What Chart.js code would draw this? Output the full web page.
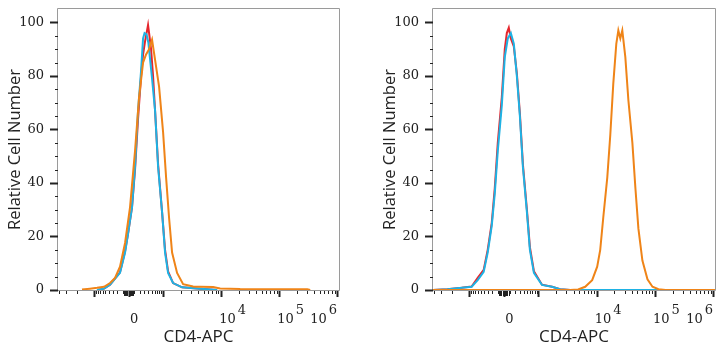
<!DOCTYPE html>
<html><head><meta charset="utf-8">
<script src="https://cdn.jsdelivr.net/npm/chart.js@4.4.0/dist/chart.umd.min.js"></script>
<style>
html,body{margin:0;padding:0;background:#fff;}
#wrap{position:relative;width:725px;height:350px;overflow:hidden;}
.pane{position:absolute;top:0;height:350px;}
</style></head><body>
<div id="wrap">
<div class="pane" style="left:0;width:362px"><canvas id="c1" width="362" height="350"></canvas></div>
<div class="pane" style="left:362px;width:363px"><canvas id="c2" width="363" height="350"></canvas></div>
</div>
<script>
// x values are display channels in decade units of the biexponential CD4-APC axis
// y values are relative cell number (%)
const xTitle = 'CD4-APC';
const yTitle = 'Relative Cell Number';
const yTickValues = [0, 20, 40, 60, 80, 100];
const xTickLabels = [
  {value: 0, base: '0', sup: ''},
  {value: 1e4, base: '10', sup: '4'},
  {value: 1e5, base: '10', sup: '5'},
  {value: 1e6, base: '10', sup: '6'}
];

// ---- left panel ----
const leftBlueX = [1.862,1.983,2.086,2.258,2.345,2.396,2.465,2.517,2.569,2.621,2.655,2.681,2.715,2.746,2.810,2.862,2.914,2.983,3.034,3.086,3.172,3.327,3.638,3.931];
const leftBlueY = [0,0.5,2,6.4,14,21,31,46,67,82,94,96,95.5,92.5,79,67,46,29,14,6.4,2.6,1,0.5,0];
const leftRedX = [1.862,1.983,2.086,2.258,2.345,2.396,2.465,2.517,2.569,2.621,2.655,2.690,2.724,2.741,2.759,2.793,2.827,2.862,2.914,2.983,3.034,3.086,3.172,3.327,3.638,3.931];
const leftRedY = [0,0.5,2,6.6,14.5,21,31,45,64,80,88,93,97,99,96,90,80,67,47,29,15,7,2.6,1,0.5,0];
const leftOrangeX = [1.603,1.741,1.862,1.983,2.086,2.172,2.258,2.345,2.431,2.517,2.586,2.655,2.707,2.759,2.810,2.862,2.931,3.000,3.052,3.103,3.155,3.241,3.345,3.517,3.638,3.862,3.983,4.327,5.483,5.534];
const leftOrangeY = [0.2,0.5,0.8,1.2,2.6,4.5,8.7,17.6,31,52,72,85,88,90,93.5,86,76,59,42,27,14,6.4,2.2,1.3,1.2,1.1,0.6,0.4,0.3,0];

// ---- right panel ----
const rightBlueX = [1.19,1.439,1.681,1.853,1.957,2.060,2.129,2.198,2.250,2.302,2.371,2.422,2.474,2.526,2.577,2.629,2.681,2.733,2.802,2.853,2.922,3.060,3.233,3.371,3.543,6.03];
const rightBlueY = [0,0.3,0.8,1.2,3.7,6.8,14,24,36,52,69,87,94,96,92,80,65,46,29,15,6.4,1.9,1.2,0.3,0,0];
const rightRedX = [1.19,1.439,1.681,1.853,1.957,2.060,2.129,2.198,2.250,2.302,2.371,2.422,2.457,2.491,2.526,2.577,2.629,2.681,2.733,2.802,2.853,2.922,3.060,3.233,3.371,3.543,6.03];
const rightRedY = [0,0.3,0.8,1.3,4.5,7.5,15,25,38,55,72,90,96,98,94,91,81,66,47,30,16,7,2,1.2,0.3,0,0];
const rightOrangeX = [1.19,3.543,3.681,3.802,3.922,4.008,4.060,4.112,4.181,4.233,4.284,4.336,4.371,4.405,4.439,4.491,4.543,4.612,4.664,4.715,4.784,4.871,4.957,5.060,5.181,6.03];
const rightOrangeY = [0,0,0.2,1.2,3.7,8.7,15,27,42,58,77,92,97,94,97,87,71,55,38,23,11,4,1.2,0.3,0,0];

const X_MIN = 1.19, X_MAX = 6.03, Y_MIN = 0, Y_MAX = 105;
const COLORS = {orange: '#ef8418', blue: '#1eb2e4', red: '#e5262d'};

// biexponential-like transform used for the axis tick positions
const T0 = 2.405, C = 300;
function tOf(v) {
  const a = Math.abs(v), s = Math.sign(v);
  if (a <= 1000) return T0 + s * (3 - T0) * Math.asinh(a / C) / Math.asinh(1000 / C);
  if (v > 0) return Math.log10(v);
  return 2 * T0 - 3 - Math.log10(a / 1000);
}
function tickList() {
  const list = [];
  for (let m = 9; m >= 2; m--) list.push({v: -m * 1000, len: 3});
  list.push({v: -1000, len: 6, major: true});
  for (let m = 9; m >= 1; m--) list.push({v: -m * 100, len: 3});
  for (let m = 8; m >= 2; m -= 2) list.push({v: -m * 10, len: 5});
  list.push({v: 0, len: 6, major: true});
  for (let m = 2; m <= 8; m += 2) list.push({v: m * 10, len: 5});
  for (let m = 1; m <= 9; m++) list.push({v: m * 100, len: 3});
  list.push({v: 1000, len: 6, major: true});
  for (const d of [1e3, 1e4, 1e5]) {
    for (let m = 2; m <= 9; m++) list.push({v: m * d, len: 3});
    list.push({v: 10 * d, len: 6, major: true});
  }
  return list;
}
const X_TICKS = tickList();

const axisPlugin = {
  id: 'flowAxes',
  beforeDatasetsDraw(chart) {
    const {ctx, chartArea: a} = chart;
    ctx.save();
    ctx.strokeStyle = '#9a9a9a';
    ctx.lineWidth = 1;
    ctx.beginPath();
    ctx.moveTo(a.left - 0.5, a.bottom + 0.5);
    ctx.lineTo(a.left - 0.5, a.top - 0.5);
    ctx.lineTo(a.right + 0.5, a.top - 0.5);
    ctx.lineTo(a.right + 0.5, a.bottom + 0.5);
    ctx.closePath();
    ctx.stroke();
    ctx.restore();
  },
  afterDraw(chart) {
    const {ctx, chartArea: a} = chart;
    const xs = chart.scales.x, ys = chart.scales.y;
    ctx.save();
    ctx.strokeStyle = '#222';
    for (let v = 0; v <= 100; v += 5) {
      const y = Math.round(ys.getPixelForValue(v)) + 0.5;
      const major = v % 20 === 0;
      ctx.lineWidth = major ? 2 : 1;
      ctx.beginPath();
      ctx.moveTo(a.left - (major ? 8 : 3), y);
      ctx.lineTo(a.left, y);
      ctx.stroke();
    }
    for (const tk of X_TICKS) {
      const t = tOf(tk.v);
      if (t < X_MIN - 1e-6 || t > X_MAX + 1e-6) continue;
      const x = Math.round(xs.getPixelForValue(t)) + 0.5;
      ctx.lineWidth = tk.major ? 2 : 1;
      ctx.beginPath();
      ctx.moveTo(x, a.bottom + 1);
      ctx.lineTo(x, a.bottom + 1 + tk.len);
      ctx.stroke();
    }
    ctx.fillStyle = '#222';
    ctx.font = '13px "DejaVu Serif"';
    ctx.textBaseline = 'alphabetic';
    for (const lb of xTickLabels) {
      const x = xs.getPixelForValue(tOf(lb.value));
      const by = a.bottom + 32.5;
      if (!lb.sup) {
        ctx.textAlign = 'center';
        ctx.fillText(lb.base, x + 5.5, by);
      } else {
        ctx.textAlign = 'left';
        const bw = ctx.measureText(lb.base).width;
        const x0 = lb.value >= 1e6 ? x - 27 : x - 2;
        ctx.fillText(lb.base, x0, by);
        ctx.fillText(lb.sup, x0 + bw + 2, by - 9);
      }
    }
    ctx.restore();
  }
};

function pts(xs, ys) { return xs.map((x, i) => ({x: x, y: ys[i]})); }

function makeChart(id, series, padLeft, padRight) {
  const datasets = series.map(s => ({
    data: pts(s.x, s.y), borderColor: s.color, borderWidth: 2,
    pointRadius: 0, tension: 0, fill: false
  }));
  return new Chart(document.getElementById(id), {
    type: 'line',
    data: {datasets},
    options: {
      responsive: false, animation: false, devicePixelRatio: 1,
      layout: {padding: {left: padLeft, right: padRight, top: 9, bottom: 0}},
      plugins: {legend: {display: false}, tooltip: {enabled: false}},
      scales: {
        x: {
          type: 'linear', min: X_MIN, max: X_MAX,
          afterFit(s) { s.height = 60; s.paddingLeft = 0; s.paddingRight = 0; },
          ticks: {display: false},
          grid: {display: false}, border: {display: false},
          title: {display: true, text: xTitle, color: '#222',
                  font: {family: 'Open Sans', size: 17}, padding: {top: 0, bottom: 3}}
        },
        y: {
          type: 'linear', min: Y_MIN, max: Y_MAX,
          afterFit(s) { s.width = 58; s.paddingTop = 0; s.paddingBottom = 0; },
          afterBuildTicks(s) { s.ticks = yTickValues.map(v => ({value: v})); },
          ticks: {color: '#222', font: {family: 'DejaVu Serif', size: 13}, padding: 7},
          grid: {display: true, drawOnChartArea: false, drawTicks: true, tickLength: 7,
                 color: 'rgba(0,0,0,0)', tickColor: 'rgba(0,0,0,0)'},
          border: {display: false},
          title: {display: true, text: yTitle, color: '#222',
                  font: {family: 'Open Sans', size: 16.5}, padding: {top: 5, bottom: 0}}
        }
      }
    },
    plugins: [axisPlugin]
  });
}

makeChart('c1', [
  {x: leftOrangeX, y: leftOrangeY, color: COLORS.orange},
  {x: leftBlueX, y: leftBlueY, color: COLORS.blue},
  {x: leftRedX, y: leftRedY, color: COLORS.red}
], 0, 23);
makeChart('c2', [
  {x: rightOrangeX, y: rightOrangeY, color: COLORS.orange},
  {x: rightBlueX, y: rightBlueY, color: COLORS.blue},
  {x: rightRedX, y: rightRedY, color: COLORS.red}
], 13, 10);
</script>
</body></html>
